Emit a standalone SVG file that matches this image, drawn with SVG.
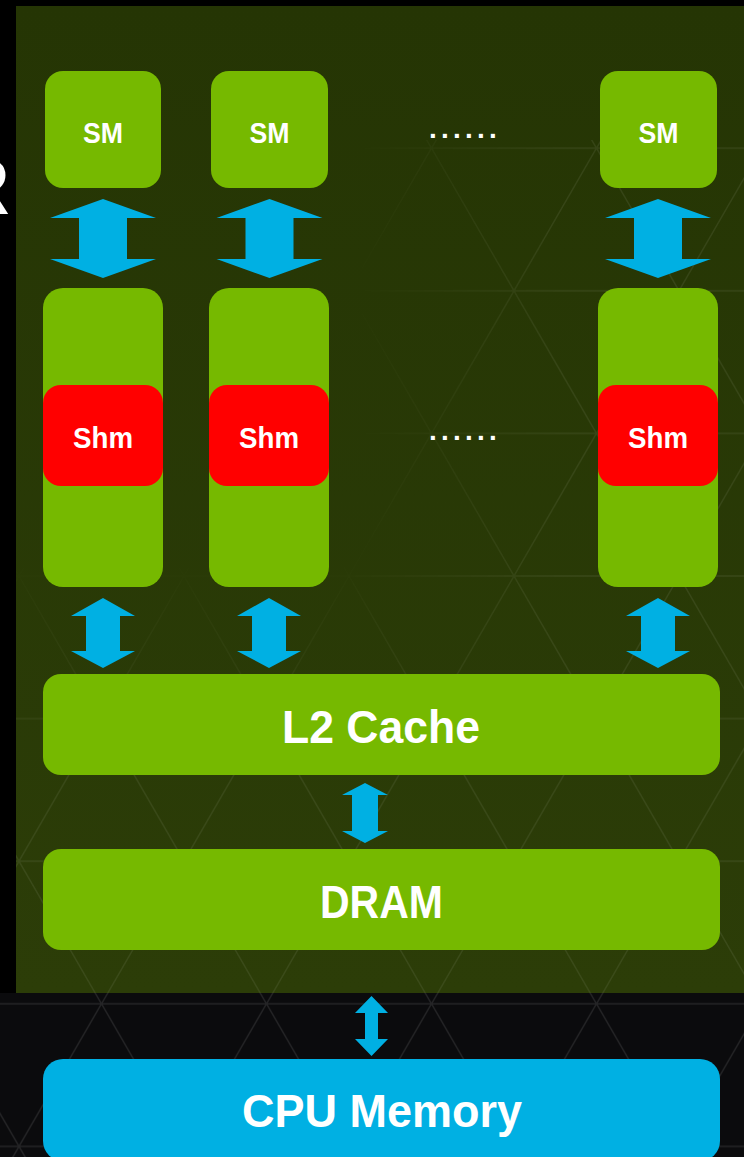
<svg xmlns="http://www.w3.org/2000/svg" width="744" height="1157" viewBox="0 0 744 1157">
  <defs>
    <linearGradient id="panelGrad" x1="0" y1="0" x2="0" y2="1">
      <stop offset="0" stop-color="#253504"/>
      <stop offset="1" stop-color="#2c3d08"/>
    </linearGradient>
    <linearGradient id="fadeV" x1="0" y1="0" x2="0" y2="1">
      <stop offset="0.55" stop-color="#ffffff" stop-opacity="0"/>
      <stop offset="0.78" stop-color="#ffffff" stop-opacity="1"/>
    </linearGradient>
    <linearGradient id="fadeH" x1="0" y1="0" x2="1" y2="0">
      <stop offset="0.45" stop-color="#ffffff" stop-opacity="0"/>
      <stop offset="0.75" stop-color="#ffffff" stop-opacity="1"/>
    </linearGradient>
    <mask id="latticeMask" maskUnits="userSpaceOnUse" x="0" y="0" width="744" height="1157">
      <rect x="16" y="6" width="728" height="987" fill="url(#fadeV)"/>
      <rect x="16" y="140" width="728" height="853" fill="url(#fadeH)"/>
    </mask>
    <pattern id="triPanel" patternUnits="userSpaceOnUse" x="19" y="5.6" width="165" height="285.2">
      <g fill="none" stroke="#ffffff" stroke-opacity="0.075" stroke-width="1.4">
        <path d="M0,0 H165 M0,142.6 H165 M0,285.2 H165 M0,0 L82.5,142.6 L165,0 M0,285.2 L82.5,142.6 L165,285.2"/>
      </g>
    </pattern>
    <pattern id="triDark" patternUnits="userSpaceOnUse" x="19" y="5.6" width="165" height="285.2">
      <g fill="none" stroke="#ffffff" stroke-opacity="0.1" stroke-width="1.4">
        <path d="M0,0 H165 M0,142.6 H165 M0,285.2 H165 M0,0 L82.5,142.6 L165,0 M0,285.2 L82.5,142.6 L165,285.2"/>
      </g>
    </pattern>
    <path id="arrowA" d="M0,0 L53,19 L24,19 L24,60 L53,60 L0,79 L-53,60 L-24,60 L-24,19 L-53,19 Z"/>
    <path id="arrowB" d="M0,0 L32,18 L17,18 L17,53 L32,53 L0,70 L-32,53 L-17,53 L-17,18 L-32,18 Z"/>
  </defs>
  <style>
    .green { fill: #76b900; }
    .red { fill: #ff0000; }
    .blue { fill: #00b0e3; }
    .lbl { fill: #ffffff; font-family: "Liberation Sans", Arial, sans-serif; font-weight: bold; text-anchor: middle; }
    .sm { font-size: 30px; }
    .shm { font-size: 30px; }
    .big { font-size: 47px; }
    .dots { fill: #ffffff; font-family: "Liberation Sans", Arial, sans-serif; font-weight: bold; font-size: 28px; letter-spacing: 4.2px; }
  </style>

  <!-- background -->
  <rect x="0" y="0" width="744" height="1157" fill="#0b0b0d"/>
  <rect x="0" y="993" width="744" height="164" fill="url(#triDark)"/>
  <rect x="16" y="6" width="728" height="987" fill="url(#panelGrad)"/>
  <rect x="16" y="6" width="728" height="987" fill="url(#triPanel)" mask="url(#latticeMask)"/>
  <rect x="0" y="0" width="744" height="6" fill="#000000"/>
  <rect x="0" y="6" width="16" height="987" fill="#000000"/>
  <text x="-48" y="214" fill="#ffffff" font-family="Liberation Sans, Arial, sans-serif" font-weight="bold" font-size="80">R</text>

  <!-- connectors -->
  <g id="connectors" class="blue">
    <use href="#arrowA" x="103" y="199"/>
    <use href="#arrowA" x="269.5" y="199"/>
    <use href="#arrowA" x="658" y="199"/>
    <use href="#arrowB" x="103" y="598"/>
    <use href="#arrowB" x="269" y="598"/>
    <use href="#arrowB" x="658" y="598"/>
    <path d="M365,783 L388,795 L378,795 L378,831 L388,831 L365,843 L342,831 L352,831 L352,795 L342,795 Z"/>
    <path d="M371.5,996 L388,1013 L378,1013 L378,1039 L388,1039 L371.5,1056 L355,1039 L365,1039 L365,1013 L355,1013 Z"/>
  </g>

  <!-- SM nodes -->
  <g id="sm1">
    <rect class="green" x="45" y="71" width="116" height="117" rx="18"/>
    <text class="lbl sm" x="103" y="143" textLength="40" lengthAdjust="spacingAndGlyphs">SM</text>
  </g>
  <g id="sm2">
    <rect class="green" x="211" y="71" width="117" height="117" rx="18"/>
    <text class="lbl sm" x="269.5" y="143" textLength="40" lengthAdjust="spacingAndGlyphs">SM</text>
  </g>
  <g id="sm-dots">
    <text class="dots" x="429" y="138">......</text>
  </g>
  <g id="sm3">
    <rect class="green" x="600" y="71" width="117" height="117" rx="18"/>
    <text class="lbl sm" x="658.5" y="143" textLength="40" lengthAdjust="spacingAndGlyphs">SM</text>
  </g>

  <!-- memory columns with shared memory -->
  <g id="col1">
    <rect class="green" x="43" y="288" width="120" height="299" rx="20"/>
    <rect class="red" x="43" y="385" width="120" height="101" rx="18"/>
    <text class="lbl shm" x="103" y="448" textLength="60" lengthAdjust="spacingAndGlyphs">Shm</text>
  </g>
  <g id="col2">
    <rect class="green" x="209" y="288" width="120" height="299" rx="20"/>
    <rect class="red" x="209" y="385" width="120" height="101" rx="18"/>
    <text class="lbl shm" x="269" y="448" textLength="60" lengthAdjust="spacingAndGlyphs">Shm</text>
  </g>
  <g id="col-dots">
    <text class="dots" x="429" y="440">......</text>
  </g>
  <g id="col3">
    <rect class="green" x="598" y="288" width="120" height="299" rx="20"/>
    <rect class="red" x="598" y="385" width="120" height="101" rx="18"/>
    <text class="lbl shm" x="658" y="448" textLength="60" lengthAdjust="spacingAndGlyphs">Shm</text>
  </g>

  <g id="l2">
    <rect class="green" x="43" y="674" width="677" height="101" rx="18"/>
    <text class="lbl big" x="381" y="743" textLength="198" lengthAdjust="spacingAndGlyphs">L2 Cache</text>
  </g>
  <g id="dram">
    <rect class="green" x="43" y="849" width="677" height="101" rx="18"/>
    <text class="lbl big" x="381.5" y="918" textLength="123" lengthAdjust="spacingAndGlyphs">DRAM</text>
  </g>
  <g id="cpu">
    <rect class="blue" x="43" y="1059" width="677" height="102" rx="20"/>
    <text class="lbl big" x="382" y="1127" textLength="280" lengthAdjust="spacingAndGlyphs">CPU Memory</text>
  </g>
</svg>
